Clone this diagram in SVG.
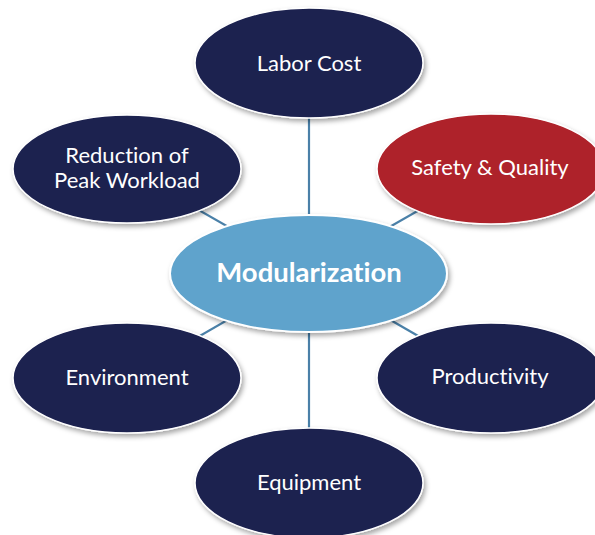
<svg xmlns="http://www.w3.org/2000/svg" width="595" height="535" viewBox="0 0 595 535">
  <defs>
    <filter id="shadow" x="-20%" y="-20%" width="140%" height="150%">
      <feDropShadow dx="2" dy="3" stdDeviation="2.5" flood-color="#000" flood-opacity="0.35"/>
    </filter>
  </defs>
  <style>
    .bg { fill: #ffffff; }
    .link { stroke: #4a80a8; stroke-width: 2.2; fill: none; }
    .outer { fill: #1c2150; stroke: #ffffff; stroke-width: 1.5; filter: url(#shadow); }
    .accent { fill: #ae2029; stroke: #ffffff; stroke-width: 1.5; filter: url(#shadow); }
    .hub { fill: #5fa3cc; stroke: #ffffff; stroke-width: 2; filter: url(#shadow); }
    .label { font-family: Lato, "Open Sans", "Liberation Sans", sans-serif; font-size: 22px; fill: #ffffff; text-anchor: middle; font-variant-ligatures: none; }
    .hub-label { font-family: Lato, "Open Sans", "Liberation Sans", sans-serif; font-size: 27.5px; font-weight: bold; fill: #ffffff; text-anchor: middle; font-variant-ligatures: none; }
  </style>
  <rect class="bg" x="0" y="0" width="595" height="535"/>

  <!-- spokes from the hub to each factor -->
  <g id="connectors">
    <line class="link" x1="309" y1="273" x2="309" y2="63"/>
    <line class="link" x1="309" y1="273" x2="127" y2="169"/>
    <line class="link" x1="309" y1="273" x2="491" y2="169"/>
    <line class="link" x1="309" y1="273" x2="127" y2="378"/>
    <line class="link" x1="309" y1="273" x2="491" y2="378"/>
    <line class="link" x1="309" y1="273" x2="309" y2="483"/>
  </g>

  <g id="labor-cost">
    <ellipse class="outer" cx="309" cy="63" rx="114" ry="55"/>
    <text class="label" x="309" y="71">Labor Cost</text>
  </g>

  <g id="peak-workload">
    <ellipse class="outer" cx="127" cy="169" rx="114" ry="54"/>
    <text class="label" x="127" y="163">Reduction of</text>
    <text class="label" x="127" y="188">Peak Workload</text>
  </g>

  <g id="safety-quality">
    <ellipse class="accent" cx="491" cy="169" rx="114" ry="55"/>
    <text class="label" x="490" y="175">Safety &amp; Quality</text>
  </g>

  <g id="environment">
    <ellipse class="outer" cx="127" cy="378" rx="114" ry="55"/>
    <text class="label" x="127" y="385">Environment</text>
  </g>

  <g id="productivity">
    <ellipse class="outer" cx="491" cy="378" rx="114" ry="55"/>
    <text class="label" x="490" y="384">Productivity</text>
  </g>

  <g id="equipment">
    <ellipse class="outer" cx="309" cy="483" rx="114" ry="55"/>
    <text class="label" x="309" y="490">Equipment</text>
  </g>

  <g id="modularization">
    <ellipse class="hub" cx="308.5" cy="273.5" rx="138.5" ry="58.5"/>
    <text class="hub-label" x="309" y="282">Modularization</text>
  </g>
</svg>
